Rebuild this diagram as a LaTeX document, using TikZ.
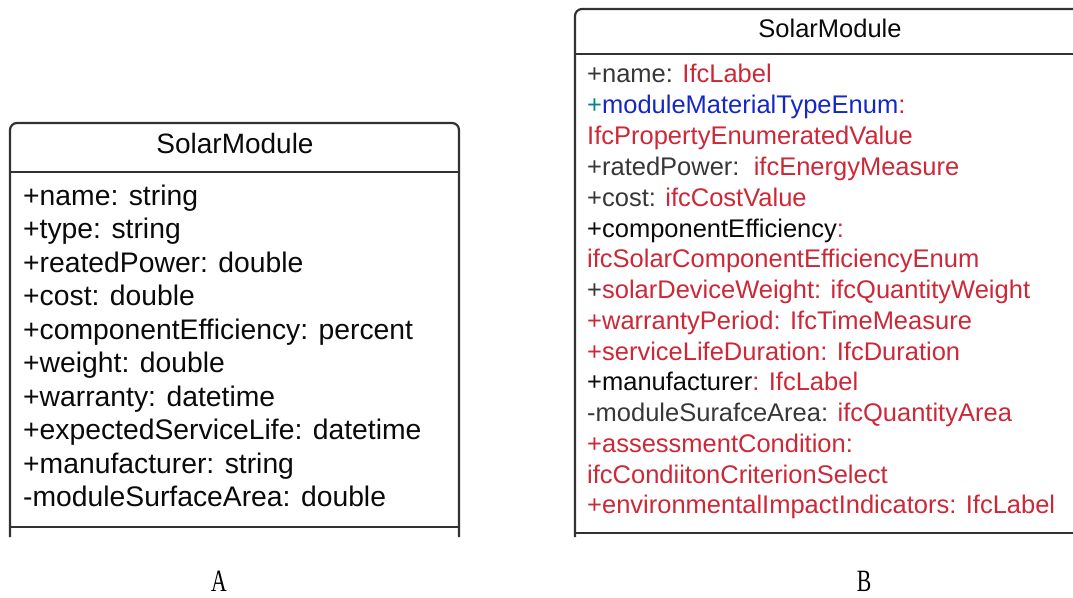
\documentclass[tikz,border=0pt]{standalone}
\usepackage{fontspec}
\usepackage{graphicx}
\newfontfamily\umlfont{Liberation Sans}
\newfontfamily\capfont{Liberation Serif}
\definecolor{umlline}{RGB}{50,50,50}
\definecolor{ifcred}{RGB}{205,40,55}
\definecolor{ifcblue}{RGB}{20,40,200}
\definecolor{ifcteal}{RGB}{0,135,135}
\definecolor{txtgray}{RGB}{55,55,55}
\definecolor{txtblack}{RGB}{10,10,10}
\tikzset{
  boxline/.style={draw=umlline, line width=2.2pt, rounded corners=7pt},
  divline/.style={draw=umlline, line width=2.2pt},
  attrA/.style={anchor=base west, inner sep=0pt, font=\umlfont\fontsize{28.3}{28}\selectfont, text=txtblack},
  headA/.style={anchor=base, inner sep=0pt, font=\umlfont\fontsize{28}{28}\selectfont, text=txtblack},
  attrB/.style={anchor=base west, inner sep=0pt, font=\umlfont\fontsize{25.5}{25.5}\selectfont, text=txtgray},
  headB/.style={anchor=base, inner sep=0pt, font=\umlfont\fontsize{25.5}{25.5}\selectfont, text=txtblack},
  caplabel/.style={anchor=base, inner sep=0pt, font=\capfont\fontsize{31}{31}\selectfont, text=black}
}
\begin{document}
\begin{tikzpicture}[x=1pt,y=-1pt]
\useasboundingbox (0,0) rectangle (1073,597);
\clip (0,0) rectangle (1073,597);
% ---------- Box A ----------
\draw[boxline] (10,537) |- (235,123) -| (459,537);
\draw[divline] (10,172) -- (459,172);
\draw[divline] (10,527) -- (459,527);
\node[headA] (ha) at (235,153) {SolarModule};
\node[attrA] (a1) at (23,205) {+name: string};
\node[attrA] (a2) at (23,238.5) {+type: string};
\node[attrA] (a3) at (23,272) {+reatedPower: double};
\node[attrA] (a4) at (23,305.5) {+cost: double};
\node[attrA] (a5) at (23,339) {+componentEfficiency: percent};
\node[attrA] (a6) at (23,372.5) {+weight: double};
\node[attrA] (a7) at (23,406) {+warranty: datetime};
\node[attrA] (a8) at (23,439.5) {+expectedServiceLife: datetime};
\node[attrA] (a9) at (23,473) {+manufacturer: string};
\node[attrA] (a10) at (23,506.5) {-moduleSurfaceArea: double};
% ---------- Box B ----------
\draw[boxline] (575,537) |- (830,9) -| (1085,537);
\draw[divline] (575,54) -- (1085,54);
\draw[divline] (575,533) -- (1085,533);
\node[headB] (hb) at (830,37) {SolarModule};
\node[attrB] (b1) at (587,82) {+name: \textcolor{ifcred}{IfcLabel}};
\node[attrB] (b2) at (587,113) {\textcolor{ifcteal}{+}\textcolor{ifcblue}{moduleMaterialTypeEnum}\textcolor{ifcred}{:}};
\node[attrB] (b3) at (587,144) {\textcolor{ifcred}{IfcPropertyEnumeratedValue}};
\node[attrB] (b4) at (587,175) {+ratedPower:\ \ \textcolor{ifcred}{ifcEnergyMeasure}};
\node[attrB] (b5) at (587,206) {+cost: \textcolor{ifcred}{ifcCostValue}};
\node[attrB] (b6) at (587,237) {\textcolor{txtblack}{+componentEfficiency}\textcolor{ifcred}{:}};
\node[attrB] (b7) at (587,267.5) {\textcolor{ifcred}{ifcSolarComponentEfficiencyEnum}};
\node[attrB] (b8) at (587,298) {+\textcolor{ifcred}{solarDeviceWeight: ifcQuantityWeight}};
\node[attrB] (b9) at (587,329) {\textcolor{ifcred}{+warrantyPeriod: IfcTimeMeasure}};
\node[attrB] (b10) at (587,360) {\textcolor{ifcred}{+serviceLifeDuration: IfcDuration}};
\node[attrB] (b11) at (587,390.5) {\textcolor{txtblack}{+manufacturer}\textcolor{ifcred}{: IfcLabel}};
\node[attrB] (b12) at (587,421) {-moduleSurafceArea: \textcolor{ifcred}{ifcQuantityArea}};
\node[attrB] (b13) at (587,452) {\textcolor{ifcred}{+assessmentCondition:}};
\node[attrB] (b14) at (587,483) {\textcolor{ifcred}{ifcCondiitonCriterionSelect}};
\node[attrB] (b15) at (587,513.5) {\textcolor{ifcred}{+environmentalImpactIndicators: IfcLabel}};
% ---------- captions ----------
\node[caplabel] (capA) at (219,591) {\scalebox{0.7}[1]{A}};
\node[caplabel] (capB) at (864,591) {\scalebox{0.7}[1]{B}};
\end{tikzpicture}
\end{document}
